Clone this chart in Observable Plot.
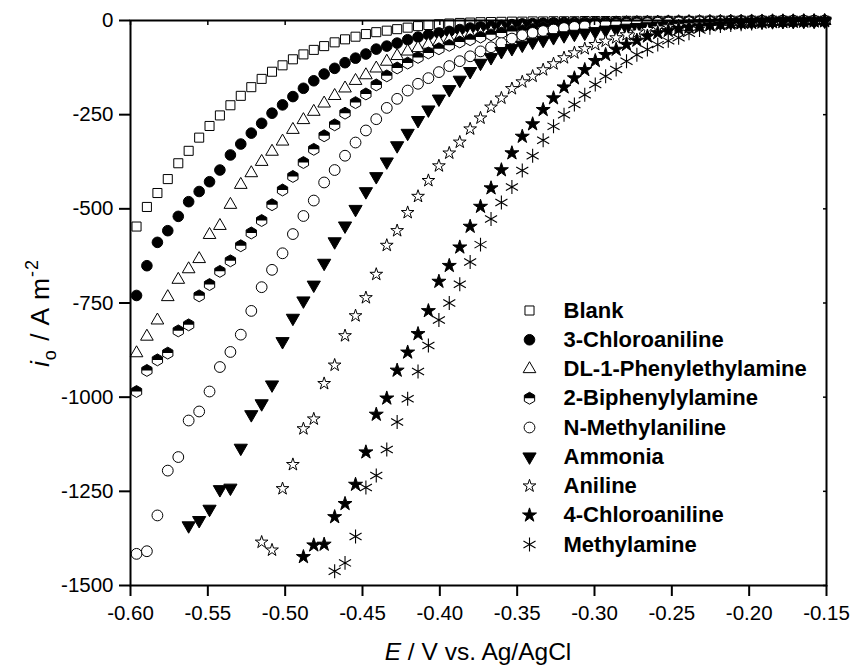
<!DOCTYPE html>
<html>
<head>
<meta charset="utf-8">
<script src="https://cdn.jsdelivr.net/npm/d3@7"></script>
<script src="https://cdn.jsdelivr.net/npm/@observablehq/plot@0.6"></script>
<style>
  body { margin: 0; background: #fff; }
  #chart svg { display: block; }
</style>
</head>
<body>
<div id="chart"></div>
<script>
// Electrode potential of each sample (V vs. Ag/AgCl), shared by all series
const potential = [
  -0.5961, -0.5894, -0.5826, -0.5759, -0.5691, -0.5624, -0.5556, -0.5489, -0.5422, -0.5354,
  -0.5287, -0.5219, -0.5152, -0.5085, -0.5017, -0.4950, -0.4882, -0.4815, -0.4748, -0.4680,
  -0.4613, -0.4545, -0.4478, -0.4411, -0.4343, -0.4276, -0.4208, -0.4141, -0.4074, -0.4006,
  -0.3939, -0.3871, -0.3804, -0.3737, -0.3669, -0.3602, -0.3534, -0.3467, -0.3400, -0.3332,
  -0.3265, -0.3197, -0.3130, -0.3063, -0.2995, -0.2928, -0.2860, -0.2793, -0.2726, -0.2658,
  -0.2591, -0.2523, -0.2456, -0.2389, -0.2321, -0.2254, -0.2186, -0.2119, -0.2052, -0.1984,
  -0.1917, -0.1849, -0.1782, -0.1715, -0.1647, -0.1580, -0.1512
];

// Current density (A m^-2) for each additive; null where no sample is shown
const blank = [
  -547, -495, -458, -421, -379, -346, -311, -280, -252, -225,
  -200, -177, -155, -136, -119, -103, -90, -78, -68, -58,
  -50, -43, -36, -31, -27, -23, -19, -15, -12, -10,
  -8, -6.5, -5.5, -4.5, -4, -3.5, -3, -3, -2.5, -2.5,
  -2, -2, -2, -1.5, -1.5, -1.5, -1.5, -1, -1, -1,
  -1, -1, -1, -1, -0.5, -0.5, -0.5, -0.5, -0.5, -0.5,
  -0.5, -0.5, -0.5, -0.5, -0.5, -0.5, -0.5
];
const chloroaniline3 = [
  -730, -651, -589, -558, -520, -481, -454, -428, -397, -357,
  -328, -299, -273, -246, -224, -202, -180, -160, -142, -127,
  -112, -100, -89, -76, -68, -60, -51, -44, -38, -33,
  -29, -24, -20, -17, -15, -13, -11, -9, -8, -7,
  -6, -5.5, -5, -4.5, -4, -3.5, -3.5, -3, -3, -2.5,
  -2.5, -2, -2, -2, -1.5, -1.5, -1.5, -1, -1, -1,
  -1, -0.5, -0.5, -0.5, -0.5, -0.5, -0.5
];
const phenylethylamine = [
  -883, -839, -796, -734, -688, -660, -633, -569, -545, -489,
  -436, -405, -375, -348, -321, -290, -264, -242, -220, -200,
  -180, -160, -145, -127, -109, -94, -82, -73, -64, -57,
  -51, -45, -39, -36, -31, -27, -24, -22, -19, -17,
  -15, -13, -11, -10, -9, -8, -7, -6.5, -6, -5.5,
  -5, -4.5, -4, -3.5, -3.5, -3, -3, -2.5, -2.5, -2,
  -2, -1.5, -1.5, -1.5, -1, -1, -1
];
const biphenylylamine = [
  -985, -929, -901, -883, -824, -808, -731, -701, -666, -638,
  -598, -564, -531, -489, -450, -414, -377, -342, -306, -277,
  -246, -218, -195, -171, -147, -126, -113, -98, -86, -75,
  -66, -57, -51, -44, -38, -33, -29, -27, -23, -18,
  -15, -13, -11, -10, -9, -8, -7, -6.5, -6, -5.5,
  -5, -4.5, -4, -3.5, -3.5, -3, -3, -2.5, -2.5, -2,
  -2, -1.5, -1.5, -1.5, -1, -1, -1
];
const methylaniline = [
  -1416, -1409, -1314, -1195, -1159, -1062, -1038, -985, -920, -880,
  -834, -771, -708, -662, -618, -567, -519, -478, -430, -397,
  -359, -324, -292, -262, -232, -208, -186, -168, -153, -137,
  -121, -108, -95, -82, -71, -60, -48, -39, -33, -28,
  -24, -20, -17, -15, -13, -11, -10, -9, -8, -7,
  -6, -5.5, -5, -4.5, -4, -3.5, -3, -3, -2.5, -2.5,
  -2, -2, -1.5, -1.5, -1, -1, -1
];
const ammonia = [
  null, null, null, null, null, -1341, -1327, -1297, -1245, -1241,
  -1135, -1046, -1017, -967, -852, -790, -744, -702, -644, -587,
  -545, -501, -454, -414, -375, -332, -299, -265, -237, -208,
  -183, -158, -135, -113, -98, -82, -74, -65, -57, -52,
  -45, -40, -36, -33, -29, -25, -23, -20, -18, -16,
  -14, -12, -10, -9, -8, -7, -6, -5, -4, -3.5,
  -3, -2.5, -2, -2, -1.5, -1.5, -1
];
const aniline = [
  null, null, null, null, null, null, null, null, null, null,
  null, null, -1385, -1406, -1243, -1179, -1084, -1058, -964, -915,
  -837, -784, -736, -674, -597, -558, -510, -467, -425, -386,
  -352, -323, -288, -259, -230, -206, -181, -163, -148, -131,
  -115, -99, -86, -75, -64, -55, -46, -38, -31, -24,
  -20, -17, -14, -12, -10, -8.5, -7, -6, -5, -4.5,
  -4, -3.5, -3, -2.5, -2, -1.5, -1
];
const chloroaniline4 = [
  null, null, null, null, null, null, null, null, null, null,
  null, null, null, null, null, null, -1424, -1393, -1391, -1318,
  -1283, -1232, -1146, -1046, -1003, -929, -881, -832, -771, -693,
  -651, -602, -547, -494, -445, -397, -352, -308, -275, -237,
  -206, -177, -153, -131, -107, -91, -77, -64, -53, -42,
  -33, -27, -22, -18, -15, -12, -10, -8, -7, -6,
  -5, -4, -3.5, -3, -2.5, -2, -1.5
];
const methylamine = [
  null, null, null, null, null, null, null, null, null, null,
  null, null, null, null, null, null, null, null, null, -1462,
  -1440, -1370, -1240, -1208, -1139, -1066, -1004, -932, -863, -795,
  -750, -700, -641, -595, -527, -483, -442, -398, -359, -318,
  -281, -250, -223, -197, -170, -148, -130, -108, -91, -77,
  -64, -54, -46, -34, -25, -19, -15, -12, -10, -8,
  -6, -5, -4, -3, -2.5, -2, -1.5
];

const seriesNames = [
  "Blank", "3-Chloroaniline", "DL-1-Phenylethylamine", "2-Biphenylylamine",
  "N-Methylaniline", "Ammonia", "Aniline", "4-Chloroaniline", "Methylamine"
];
const seriesValues = [
  blank, chloroaniline3, phenylethylamine, biphenylylamine,
  methylaniline, ammonia, aniline, chloroaniline4, methylamine
];

const xTicks = [-0.60, -0.55, -0.50, -0.45, -0.40, -0.35, -0.30, -0.25, -0.20, -0.15];
const yTicks = [0, -250, -500, -750, -1000, -1250, -1500];

// ---- custom marker shapes (d3 symbol types) ----
const triangleDown = {
  draw(ctx, size) {
    const s = Math.sqrt(size * 4 / Math.sqrt(3));
    const h = s * Math.sqrt(3) / 2;
    ctx.moveTo(-s / 2, -h / 3);
    ctx.lineTo(s / 2, -h / 3);
    ctx.lineTo(0, 2 * h / 3);
    ctx.closePath();
  }
};
const hexRadius = size => Math.sqrt(2 * size / (3 * Math.sqrt(3)));
const hexFull = {
  draw(ctx, size) {
    const R = hexRadius(size), c = R * Math.sqrt(3) / 2;
    ctx.moveTo(0, -R); ctx.lineTo(c, -R / 2); ctx.lineTo(c, R / 2);
    ctx.lineTo(0, R); ctx.lineTo(-c, R / 2); ctx.lineTo(-c, -R / 2);
    ctx.closePath();
  }
};
const hexUpperHalf = {
  draw(ctx, size) {
    const R = hexRadius(size), c = R * Math.sqrt(3) / 2;
    ctx.moveTo(0, -R); ctx.lineTo(c, -R / 2); ctx.lineTo(c, 0);
    ctx.lineTo(-c, 0); ctx.lineTo(-c, -R / 2);
    ctx.closePath();
  }
};

// marker style for each series, in legend order
const markerStyles = [
  {symbol: "square", r: 5.1, fill: "white"},
  {symbol: "circle", r: 5.3, fill: "black"},
  {symbol: "triangle", r: 4.7, fill: "white"},
  {symbol: hexFull, r: 5.4, fill: "white", upperHalf: true},
  {symbol: "circle", r: 5.4, fill: "white"},
  {symbol: triangleDown, r: 4.9, fill: "black"},
  {symbol: "star", r: 4.0, fill: "white"},
  {symbol: "star", r: 4.4, fill: "black"},
  {symbol: "asterisk", r: 6.6, fill: "none"}
];

const rows = seriesNames.map((name, s) =>
  seriesValues[s]
    .map((v, k) => ({E: potential[k], i: v, series: name}))
    .filter(d => d.i !== null)
);

function dotMarks(data, st, extra) {
  const marks = [
    Plot.dot(data, {
      ...extra, symbol: st.symbol, r: st.r, fill: st.fill,
      stroke: "black", strokeWidth: st.symbol === "asterisk" ? 1.1 : 1
    })
  ];
  if (st.upperHalf) {
    marks.push(Plot.dot(data, {...extra, symbol: hexUpperHalf, r: st.r, fill: "black", stroke: "none"}));
  }
  return marks;
}

const marks = [];
seriesNames.forEach((name, s) => {
  marks.push(...dotMarks(rows[s], markerStyles[s], {x: "E", y: "i"}));
});

// legend inside the frame
const legendLeft = 399, legendTextLeft = 433, legendTop = 290, legendStep = 29.25;
seriesNames.forEach((name, s) => {
  marks.push(...dotMarks([name], markerStyles[s], {
    frameAnchor: "top-left", dx: legendLeft, dy: legendTop + s * legendStep
  }));
  marks.push(Plot.text([name], {
    frameAnchor: "top-left", dx: legendTextLeft, dy: legendTop + s * legendStep,
    text: d => d, textAnchor: "start", lineAnchor: "middle",
    fontSize: 22, fontWeight: "bold", fill: "black"
  }));
});

marks.push(
  Plot.axisX({ticks: xTicks, tickFormat: d => d.toFixed(2), tickSize: 11, tickPadding: 9,
              strokeWidth: 2, fontSize: 20.5, label: null}),
  Plot.axisY({ticks: yTicks, tickFormat: d => String(d), tickSize: 11, tickPadding: 6,
              strokeWidth: 2, fontSize: 20.5, label: null}),
  Plot.axisX({anchor: "top", ticks: xTicks, tickSize: 4, dy: 4, tickFormat: () => "",
              strokeWidth: 1.5, label: null}),
  Plot.axisY({anchor: "right", ticks: yTicks, tickSize: 4, dx: -4, tickFormat: () => "",
              strokeWidth: 1.5, label: null}),
  Plot.frame({stroke: "black", strokeWidth: 2})
);

const chart = Plot.plot({
  width: 851,
  height: 666,
  marginLeft: 130,
  marginRight: 25,
  marginTop: 20,
  marginBottom: 81,
  style: {fontFamily: "'Liberation Sans', Arial, sans-serif", color: "black", background: "white"},
  x: {domain: [-0.60, -0.15]},
  y: {domain: [-1500, 0]},
  marks
});

// axis titles with italic symbols and sub/superscripts
const svg = d3.select(chart);
const xTitle = svg.append("text")
  .attr("x", 478).attr("y", 660)
  .attr("text-anchor", "middle")
  .attr("font-size", 24.5).attr("fill", "black");
xTitle.append("tspan").attr("font-style", "italic").text("E");
xTitle.append("tspan").text(" / V vs. Ag/AgCl");

const yTitle = svg.append("text")
  .attr("transform", "translate(49,313) rotate(-90)")
  .attr("text-anchor", "middle")
  .attr("font-size", 26.5).attr("letter-spacing", 1).attr("fill", "black");
yTitle.append("tspan").attr("font-style", "italic").text("i");
yTitle.append("tspan").attr("font-size", 18).attr("dy", 7).text("o");
yTitle.append("tspan").attr("dy", -7).text(" / A m");
yTitle.append("tspan").attr("font-size", 18).attr("dy", -11).text("-2");

document.getElementById("chart").appendChild(chart);
</script>
</body>
</html>
